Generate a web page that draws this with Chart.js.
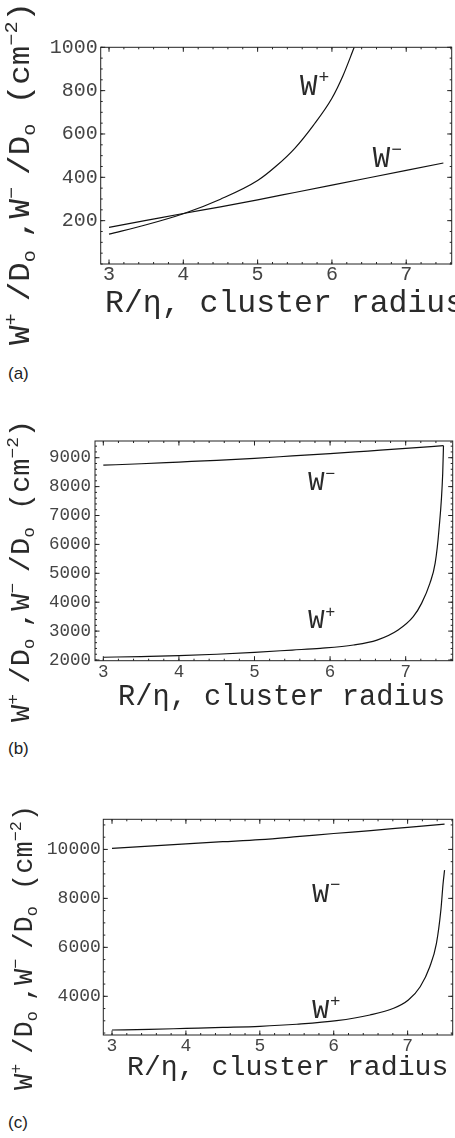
<!DOCTYPE html>
<html><head><meta charset="utf-8">
<script src="https://cdn.jsdelivr.net/npm/chart.js@4.4.1/dist/chart.umd.min.js"></script>
<style>
html,body{margin:0;padding:0;background:#fff;}
body{width:455px;height:1138px;position:relative;overflow:hidden;}
.pan{position:absolute;left:0;width:455px;}
.pan canvas{display:block;}
.lab{position:absolute;left:8px;font-family:'Liberation Sans',Arial,sans-serif;font-size:17px;line-height:17px;color:#222;}
</style></head><body>
<div class="pan" style="top:0;height:360px"><canvas id="ca" width="455" height="360"></canvas></div>
<div class="lab" style="top:364.6px">(a)</div>
<div class="pan" style="top:390px;height:340px"><canvas id="cb" width="455" height="340"></canvas></div>
<div class="lab" style="top:739.6px">(b)</div>
<div class="pan" style="top:770px;height:340px"><canvas id="cc" width="455" height="340"></canvas></div>
<div class="lab" style="top:1113.6px">(c)</div>
<script>
// ---------- data ----------
const xTicks = [3, 4, 5, 6, 7];

// panel (a)
const xA_minus = [3, 3.5, 4, 4.5, 5, 5.5, 6, 6.5, 7, 7.5];
const wMinusA  = [169, 201, 233, 264, 296, 330, 364, 398, 432, 466];
const xA_plus  = [3, 3.5, 4, 4.5, 5, 5.25, 5.5, 5.75, 6, 6.15, 6.3];
const wPlusA   = [138, 181, 232, 299, 385, 452, 534, 640, 765, 870, 1000];
const yTicksA  = [200, 400, 600, 800, 1000];

// panel (b)
const xB_minus = [3, 3.5, 4, 4.5, 5, 5.5, 6, 6.5, 7, 7.5];
const wMinusB  = [8740, 8790, 8850, 8910, 8980, 9060, 9140, 9230, 9320, 9415];
const xB_plus  = [3, 3.5, 4, 4.5, 5, 5.5, 5.87, 6.31, 6.62, 6.9, 7.1, 7.21, 7.32, 7.39, 7.44, 7.49, 7.5];
const wPlusB   = [2095, 2120, 2150, 2200, 2265, 2345, 2405, 2520, 2690, 3040, 3500, 3960, 4650, 5350, 6500, 8460, 9415];
const yTicksB  = [2000, 3000, 4000, 5000, 6000, 7000, 8000, 9000];

// panel (c)
const xC_minus = [3, 3.5, 4, 4.5, 5, 5.5, 6, 6.5, 7, 7.5];
const wMinusC  = [10040, 10135, 10230, 10315, 10400, 10520, 10650, 10770, 10900, 11030];
const xC_plus  = [3, 3.5, 4, 4.5, 5, 5.5, 6.04, 6.49, 6.81, 7.01, 7.17, 7.3, 7.39, 7.45, 7.48, 7.5];
const wPlusC   = [2625, 2650, 2690, 2730, 2775, 2860, 3005, 3237, 3510, 3849, 4392, 5208, 6163, 7523, 8610, 9155];
const yTicksC  = [4000, 6000, 8000, 10000];

const xTitleText = 'R/\u03B7, cluster radius';

// ---------- helpers ----------
const MONO = "'Liberation Mono', 'DejaVu Sans Mono', monospace";
const pts = (xs, ys) => xs.map((x, i) => ({x: x, y: ys[i]}));

const frameTicks = {
  id: 'frameTicks',
  afterDatasetsDraw(chart, args, o) {
    const {ctx, chartArea: a, scales: {x, y}} = chart;
    ctx.save();
    ctx.strokeStyle = '#222';
    ctx.lineWidth = 1;
    ctx.beginPath();
    const L = (x1, y1, x2, y2) => { ctx.moveTo(x1, y1); ctx.lineTo(x2, y2); };
    const xt = (v, len) => { const p = x.getPixelForValue(v); L(p, a.bottom, p, a.bottom - len); L(p, a.top, p, a.top + len); };
    const yt = (v, len) => { const p = y.getPixelForValue(v); L(a.left, p, a.left + len, p); L(a.right, p, a.right - len, p); };
    for (let k = Math.ceil(x.min / o.xMinor); k * o.xMinor <= x.max; k++) xt(k * o.xMinor, 2);
    for (let k = Math.ceil(y.min / o.yMinor); k * o.yMinor <= y.max; k++) yt(k * o.yMinor, 2);
    o.xMajor.forEach(v => xt(v, 4.5));
    o.yMajor.forEach(v => yt(v, 4.5));
    ctx.stroke();
    ctx.strokeRect(a.left, a.top, a.right - a.left, a.bottom - a.top);
    ctx.restore();
  }
};

const texts = {
  id: 'texts',
  afterDraw(chart, args, o) {
    const {ctx, scales: {x, y}} = chart;
    ctx.save();
    ctx.fillStyle = '#2a2a2a';
    ctx.textBaseline = 'alphabetic';
    ctx.textAlign = 'left';
    // curve labels
    o.marks.forEach(m => {
      const px = x.getPixelForValue(m.x), py = y.getPixelForValue(m.y);
      ctx.font = o.markSize + 'px ' + MONO;
      ctx.fillText(m.main, px, py);
      const w = ctx.measureText(m.main).width;
      ctx.font = (o.markSize * 0.62) + 'px ' + MONO;
      ctx.fillText(m.sup, px + w + 1, py - o.markSize * 0.42);
    });
    // x title
    ctx.font = o.xTitle.size + 'px ' + MONO;
    ctx.fillText(o.xTitle.text, o.xTitle.x, o.xTitle.y);
    // y title with super/subscripts
    const t = o.yTitle, s = t.size, sm = s * 0.62;
    const segs = [
      ['W','n'],['+','p'],[' ','s'],['/','n'],['D','n'],['o','b'],[' ','s'],[',','n'],
      ['W','n'],['\u2212','p'],[' ','s'],['/','n'],['D','n'],['o','b'],
      [' ','n'],['(','n'],['c','n'],['m','n'],['\u22122','p'],[')','n']
    ];
    const fontOf = k => (k === 'n' ? s : sm) + 'px ' + MONO;
    let total = 0;
    segs.forEach(g => { ctx.font = fontOf(g[1]); g.push(ctx.measureText(g[0]).width); total += g[2]; });
    const k = (t.startY - t.endY) / total;
    ctx.translate(t.baseX, t.startY);
    ctx.rotate(-Math.PI / 2);
    ctx.scale(k, 1);
    let cx = 0;
    segs.forEach(g => {
      ctx.font = fontOf(g[1]);
      const dy = g[1] === 'p' ? -s * 0.42 : (g[1] === 'b' ? s * 0.2 : 0);
      ctx.fillText(g[0], cx, dy);
      cx += g[2];
    });
    ctx.restore();
  }
};

function makeChart(id, cfg) {
  const c = document.getElementById(id);
  const H = c.height;
  const ds = (data) => ({
    data: data, borderColor: '#111', borderWidth: 1.2, pointRadius: 0,
    fill: false, cubicInterpolationMode: 'monotone'
  });
  return new Chart(c, {
    type: 'line',
    data: {datasets: [ds(pts(cfg.xp, cfg.wp)), ds(pts(cfg.xm, cfg.wm))]},
    options: {
      responsive: false, animation: false, parsing: true,
      layout: {padding: {left: 0, top: cfg.area.top, right: 455 - cfg.area.right, bottom: 0}},
      plugins: {
        legend: {display: false}, tooltip: {enabled: false},
        frameTicks: {xMinor: 0.2, yMinor: cfg.yMinor, xMajor: xTicks, yMajor: cfg.yTicks},
        texts: {
          marks: cfg.marks, markSize: cfg.markSize,
          xTitle: {text: xTitleText, x: cfg.xTitle.x, y: cfg.xTitle.y, size: cfg.xTitle.size},
          yTitle: cfg.yTitle
        }
      },
      scales: {
        x: {
          type: 'linear', min: cfg.xRange[0], max: cfg.xRange[1],
          grid: {display: false, drawTicks: false}, border: {display: false},
          afterBuildTicks: s => { s.ticks = xTicks.map(v => ({value: v})); },
          afterFit: s => { s.height = H - cfg.area.bottom; },
          ticks: {autoSkip: false, maxRotation: 0, padding: cfg.xPad, color: '#444',
                  font: {family: MONO, size: cfg.tickSize, lineHeight: 1},
                  callback: v => String(v)}
        },
        y: {
          type: 'linear', min: cfg.yRange[0], max: cfg.yRange[1],
          grid: {display: false, drawTicks: false}, border: {display: false},
          afterBuildTicks: s => { s.ticks = cfg.yTicks.map(v => ({value: v})); },
          afterFit: s => { s.width = cfg.area.left; },
          ticks: {autoSkip: false, padding: cfg.yPad, color: '#444',
                  font: {family: MONO, size: cfg.tickSize, lineHeight: 1},
                  callback: v => String(v)}
        }
      }
    },
    plugins: [frameTicks, texts]
  });
}

makeChart('ca', {
  xp: xA_plus, wp: wPlusA, xm: xA_minus, wm: wMinusA, yTicks: yTicksA, yMinor: 50,
  xRange: [2.888, 7.612], yRange: [0, 1000],
  area: {left: 100.7, right: 451.7, top: 47.3, bottom: 264},
  tickSize: 20, xPad: 0.5, yPad: 3,
  marks: [{x: 5.57, y: 780, main: 'W', sup: '+'}, {x: 6.55, y: 448, main: 'W', sup: '\u2212'}],
  markSize: 29,
  xTitle: {x: 105, y: 312, size: 31.5},
  yTitle: {baseX: 29, startY: 345, endY: 2, size: 29}
});
makeChart('cb', {
  xp: xB_plus, wp: wPlusB, xm: xB_minus, wm: wMinusB, yTicks: yTicksB, yMinor: 200,
  xRange: [2.89, 7.622], yRange: [1976, 9578],
  area: {left: 95, right: 452.7, top: 51, bottom: 270.7},
  tickSize: 17.5, xPad: 3, yPad: 4,
  marks: [{x: 5.71, y: 7882, main: 'W', sup: '\u2212'}, {x: 5.71, y: 3107, main: 'W', sup: '+'}],
  markSize: 27,
  xTitle: {x: 118, y: 315, size: 28.7},
  yTitle: {baseX: 29, startY: 332, endY: 30, size: 27}
});
makeChart('cc', {
  xp: xC_plus, wp: wPlusC, xm: xC_minus, wm: wMinusC, yTicks: yTicksC, yMinor: 500,
  xRange: [2.882, 7.61], yRange: [2420, 11230],
  area: {left: 103.3, right: 452.7, top: 49.3, bottom: 265},
  tickSize: 18, xPad: 2, yPad: 2.5,
  marks: [{x: 5.71, y: 7850, main: 'W', sup: '\u2212'}, {x: 5.71, y: 3115, main: 'W', sup: '+'}],
  markSize: 28,
  xTitle: {x: 127, y: 305, size: 28.2},
  yTitle: {baseX: 32, startY: 320, endY: 35, size: 27}
});
</script>
</body></html>
